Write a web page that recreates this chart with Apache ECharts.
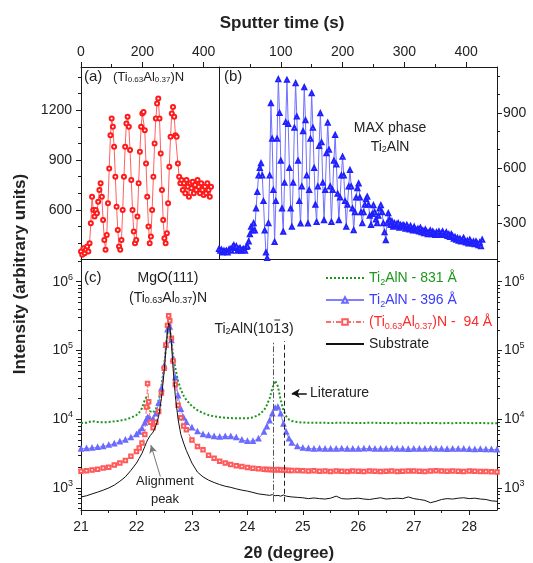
<!DOCTYPE html>
<html><head><meta charset="utf-8">
<script src="https://cdn.jsdelivr.net/npm/echarts@6/dist/echarts.min.js"></script>
<style>html,body{margin:0;padding:0;background:#fff}#c{width:533px;height:563px}</style>
</head><body><div id="c"></div>
<script>
// ---------- DATA ----------
// Panel (a): (Ti0.63Al0.37)N, sampled every 4 s from 0 s
const timeStepA = 4;
const intensityA = [
350,330,370,340,360,380,350,400,520,680,
600,560,600,580,650,720,760,680,540,420,
360,450,640,850,1050,1150,1100,980,800,620,
480,380,360,420,600,800,980,1120,1160,1100,
960,780,600,470,400,420,560,760,950,1100,
1180,1190,1080,880,680,500,400,440,600,800,
1000,1150,1240,1270,1150,940,720,540,430,400,
460,640,860,1040,1180,1220,1160,1050,1040,880,
800,760,780,720,760,700,780,740,680,760,
730,770,700,750,720,780,740,700,760,720,
690,740,700,760,720,680,740];
// Panel (b): MAX phase Ti2AlN, sampled every 2 s from 0 s
const timeStepB = 2;
const intensityB = [
160,150,155,140,150,145,150,140,155,160,
150,170,180,165,175,150,160,165,150,155,
160,150,170,175,200,240,280,260,300,260,
380,470,560,600,626,560,420,260,140,110,
300,560,953,760,480,198,420,760,1084,900,
640,380,253,520,850,1080,840,600,380,280,
520,820,1062,880,640,420,298,500,800,1040,
860,560,298,480,760,1007,820,600,400,307,
500,720,898,740,520,316,480,680,847,700,
500,307,480,640,780,620,460,316,440,560,
662,560,420,280,400,500,589,500,380,262,
360,440,490,516,440,360,300,360,400,430,
444,400,340,290,350,398,360,320,300,340,
380,398,360,300,250,207,300,354,320,290,
310,280,300,285,295,300,275,290,280,290,
285,270,290,275,265,285,270,260,280,265,
260,270,255,275,250,260,245,265,255,240,
250,260,240,255,245,235,250,240,255,235,
245,255,235,240,250,230,240,225,240,230,
215,225,210,220,205,215,200,210,220,200,
195,205,190,210,195,190,200,185,200,190,
180,195,175,210];
// Panel (c): XRD, 2theta (degree)
const twoTheta = [
21.0,21.1,21.2,21.3,21.4,21.5,21.6,21.7,21.8,21.9,22.0,
22.05,22.1,22.15,22.18,22.2,22.22,22.25,22.3,22.35,22.4,22.45,22.5,22.53,22.56,22.58,22.6,22.63,22.66,22.7,22.75,22.8,22.85,22.9,
23.0,23.1,23.2,23.3,23.4,23.5,23.6,23.7,23.8,23.9,24.0,24.1,24.2,24.3,
24.35,24.4,24.45,24.5,24.55,24.6,24.65,24.7,24.75,24.8,
24.9,25.0,25.1,25.2,25.3,25.4,25.5,25.6,25.7,25.8,25.9,26.0,26.1,26.2,26.3,26.4,26.5,26.6,26.7,26.8,26.9,27.0,27.1,27.2,27.3,27.4,27.5,27.6,27.7,27.8,27.9,28.0,28.1,28.2,28.3,28.4,28.5];
const green831 = [
8800,8900,9400,9100,9000,9100,9300,9500,9900,10500,11500,
12500,14500,19000,21000,19500,16000,13000,12500,14000,19000,30000,60000,110000,180000,215000,200000,140000,85000,55000,36000,27000,22000,19000,
15500,13500,12300,11500,11000,10700,10500,10400,10300,10300,10300,10600,11500,13500,
16000,20000,28000,36500,30000,19000,13500,11000,9900,9400,
9100,8950,8900,8850,8900,8850,8800,8850,8900,8850,8800,8850,8800,8900,8850,8800,8850,8800,8750,8800,8850,8800,8750,8800,8850,8800,8750,8800,8750,8800,8850,8800,8750,8800,8750,8700,8750];
const blue396 = [
3700,3750,3800,3900,4000,4200,4400,4700,5000,5400,6000,
6500,7300,8800,9800,10500,10300,9800,10000,12000,17000,28000,60000,120000,200000,250000,220000,140000,75000,40000,22000,14000,10500,9000,
7500,6600,6000,5800,5600,5500,5600,5600,5400,5000,4800,4800,5200,6500,
7800,9500,12000,14500,15000,12000,8500,6500,5200,4500,
4000,3800,3750,3700,3720,3700,3680,3700,3720,3700,3680,3700,3720,3750,3700,3680,3700,3720,3700,3680,3660,3700,3680,3700,3720,3700,3680,3660,3680,3700,3680,3660,3640,3660,3640,3620,3600];
const red94 = [
1750,1780,1820,1870,1950,2000,2150,2300,2500,2900,3400,
3800,4500,6000,15000,33000,18000,9000,7500,9000,13000,24000,55000,120000,230000,320000,270000,150000,70000,32000,16000,10500,8000,7000,
5000,4000,3600,3000,2700,2450,2300,2200,2100,2050,1980,1930,1900,1870,
1860,1850,1840,1830,1850,1820,1830,1810,1800,1800,
1800,1780,1760,1780,1750,1760,1740,1760,1750,1740,1760,1750,1740,1760,1750,1740,1750,1760,1740,1750,1760,1770,1750,1740,1760,1780,1760,1750,1760,1750,1740,1760,1750,1740,1730,1720,1700];
const substrate = [
740,770,820,870,930,1000,1100,1250,1450,1800,2300,
2700,3200,4000,4600,5000,5300,5800,6500,8000,11000,20000,50000,100000,190000,250000,230000,130000,55000,22000,10000,6000,4500,3500,
2300,1700,1450,1300,1200,1120,1060,1020,970,930,900,860,820,800,
790,780,800,770,780,760,790,760,750,740,
730,720,700,715,700,690,710,760,700,690,700,710,690,680,700,720,690,700,710,700,740,700,680,660,610,640,680,700,690,710,720,700,710,690,680,650,640];
// tick values
const ticksAx = [0,200,400], ticksAxMinor = [100,300];
const ticksBx = [100,200,300,400], ticksBxMinor = [50,150,250,350];
const ticksAy = [600,900,1200], ticksAyMinor = [400,500,700,800,1000,1100,1300,1400];
const ticksBy = [300,600,900], ticksByMinor = [200,400,500,700,800,1000,1100];
const ticksCx = [21,22,23,24,25,26,27,28], ticksCxMinor = [21.5,22.5,23.5,24.5,25.5,26.5,27.5];
const ticksCy = [1e3,1e4,1e5,1e6];
const ticksCyMinor = [500,600,700,800,900,2000,3000,4000,5000,6000,7000,8000,9000,
  20000,30000,40000,50000,60000,70000,80000,90000,200000,300000,400000,500000,600000,700000,800000,900000,2000000];

// ---------- CHART ----------
const F = 'Arial, "Liberation Sans", sans-serif';
const AX = '#1a1a1a';
const GREEN = '#1e961e', BLUE = '#3c3cff', RED = '#ff2a2a';
const pairs = (step, arr) => arr.map((v, i) => [i * step, v]);
const zip = (xs, ys) => xs.map((x, i) => [x, ys[i]]);

function ax(o) {
  const base = {type:'value', splitLine:{show:false},
    axisLine:{show:false, onZero:false, lineStyle:{color:AX, width:1}},
    axisTick:{show:false}, axisLabel:{show:false}};
  return Object.assign(base, o);
}
function lineOnly(o) { return ax(Object.assign({axisLine:{show:true, onZero:false, lineStyle:{color:AX, width:1}}}, o)); }
function major(vals, o, labelOpt) {
  return ax(Object.assign({
    axisLine:{show:true, onZero:false, lineStyle:{color:AX, width:1}},
    axisTick:{show:true, length:5, customValues:vals, lineStyle:{color:AX, width:1}},
    axisLabel:Object.assign({show:true, customValues:vals, fontSize:14, fontFamily:F, color:'#222', margin:8,
      formatter: v => String(v)}, labelOpt || {})
  }, o));
}
function minor(vals, o) {
  return ax(Object.assign({axisTick:{show:true, length:3, customValues:vals, lineStyle:{color:AX, width:1}}}, o));
}
const logLabel = {
  formatter: v => '{b|10}{s|' + Math.round(Math.log10(v)) + '}',
  rich: {b:{fontSize:14, fontFamily:F, color:'#222', lineHeight:18},
         s:{fontSize:9, fontFamily:F, color:'#222', lineHeight:10, verticalAlign:'top'}}
};
const cYmin = 478, cYmax = 2.14e6;

const richTok = (size, color) => ({
  n:{fontSize:size, fontFamily:F, fill:color, color:color, lineHeight:18},
  s:{fontSize:Math.round(size*0.65), fontFamily:F, fill:color, color:color, lineHeight:10, verticalAlign:'bottom'}
});
function gtext(x, y, text, opt) {
  opt = opt || {};
  const size = opt.size || 14, color = opt.color || '#222';
  return {type:'text', x:x, y:y, rotation:opt.rotation || 0, silent:true, z:100,
    style:{text:text, fontSize:size, fontFamily:F, fontWeight:opt.weight || 'normal', fill:color,
      align:opt.align || 'center', verticalAlign:'middle', rich:richTok(size, color)}};
}
// measure pieces of the Miller-Bravais label to put the bar over the "1"
const mctx = document.createElement('canvas').getContext('2d');
function tw(s, size) { mctx.font = size + 'px ' + F; return mctx.measureText(s).width; }
const hklCx = 254, hklCy = 329;
const hklW = [tw('Ti',14), tw('2',9), tw('AlN(10',14), tw('1',14), tw('3)',14)];
const hklTotal = hklW.reduce((a,b)=>a+b,0);
const hklX0 = hklCx - hklTotal/2;
const barX1 = hklX0 + hklW[0] + hklW[1] + hklW[2] + 1;
const barX2 = barX1 + hklW[3] - 2;

const option = {
  animation:false,
  backgroundColor:'#fff',
  grid:[
    {left:81, top:67, width:138, height:192},
    {left:219, top:67, width:278, height:192},
    {left:81, top:259, width:416, height:251}
  ],
  xAxis:[
    major(ticksAx, {gridIndex:0, position:'top', min:0, max:450}),
    minor(ticksAxMinor, {gridIndex:0, position:'top', min:0, max:450}),
    major(ticksBx, {gridIndex:1, position:'top', min:0, max:450}),
    minor(ticksBxMinor, {gridIndex:1, position:'top', min:0, max:450}),
    major(ticksCx, {gridIndex:2, position:'bottom', min:21, max:28.5}, {margin:10}),
    minor(ticksCxMinor, {gridIndex:2, position:'bottom', min:21, max:28.5}),
    lineOnly({gridIndex:2, position:'top', min:21, max:28.5})
  ],
  yAxis:[
    major(ticksAy, {gridIndex:0, position:'left', min:305, max:1460}, {margin:9}),
    minor(ticksAyMinor, {gridIndex:0, position:'left', min:305, max:1460}),
    major(ticksBy, {gridIndex:1, position:'right', min:105, max:1150}, {margin:6}),
    minor(ticksByMinor, {gridIndex:1, position:'right', min:105, max:1150}),
    lineOnly({gridIndex:1, position:'left', min:105, max:1150}),
    major(ticksCy, {gridIndex:2, position:'left', type:'log', logBase:10, min:cYmin, max:cYmax}, Object.assign({margin:8}, logLabel)),
    minor(ticksCyMinor, {gridIndex:2, position:'left', type:'log', logBase:10, min:cYmin, max:cYmax}),
    major(ticksCy, {gridIndex:2, position:'right', type:'log', logBase:10, min:cYmin, max:cYmax}, Object.assign({margin:7}, logLabel)),
    minor(ticksCyMinor, {gridIndex:2, position:'right', type:'log', logBase:10, min:cYmin, max:cYmax})
  ],
  legend:{
    orient:'vertical', left:320, top:266, itemWidth:38, itemHeight:7, itemGap:6,
    data:[{name:'g831', itemStyle:{opacity:0}}, 'b396', 'r94', {name:'sub', itemStyle:{opacity:0}}],
    formatter: name => ({
      g831:'{gn|Ti}{gs|2}{gn|AlN - 831 Å}',
      b396:'{bn|Ti}{bs|2}{bn|AlN - 396 Å}',
      r94:'{rn|(Ti}{rs|0.63}{rn|Al}{rs|0.37}{rn|)N -  94 Å}',
      sub:'{kn|Substrate}'
    })[name],
    textStyle:{fontFamily:F, fontSize:14, rich:{
      gn:{color:GREEN, fontSize:14, fontFamily:F, lineHeight:18},
      gs:{color:GREEN, fontSize:9, fontFamily:F, lineHeight:10, verticalAlign:'bottom'},
      bn:{color:BLUE, fontSize:14, fontFamily:F, lineHeight:18},
      bs:{color:BLUE, fontSize:9, fontFamily:F, lineHeight:10, verticalAlign:'bottom'},
      rn:{color:RED, fontSize:14, fontFamily:F, lineHeight:18},
      rs:{color:RED, fontSize:9, fontFamily:F, lineHeight:10, verticalAlign:'bottom'},
      kn:{color:'#222', fontSize:14, fontFamily:F, lineHeight:18}
    }}
  },
  series:[
    {type:'line', name:'a', xAxisIndex:0, yAxisIndex:0, data:pairs(timeStepA, intensityA),
     symbol:'emptyCircle', symbolSize:4, lineStyle:{color:'#ff6060', width:1},
     itemStyle:{color:'#ff1a1a', borderWidth:1}},
    {type:'line', name:'b', xAxisIndex:2, yAxisIndex:2, data:pairs(timeStepB, intensityB),
     symbol:'emptyTriangle', symbolSize:4, lineStyle:{color:'#7070ff', width:1},
     itemStyle:{color:'#2020ff', borderWidth:0.8}},
    {type:'line', name:'sub', xAxisIndex:4, yAxisIndex:5, data:zip(twoTheta, substrate),
     symbol:'circle', showSymbol:false, lineStyle:{color:'#111', width:1}, itemStyle:{color:'#111'}, z:3,
     markLine:{silent:true, animation:false, symbol:['none','none'], label:{show:false},
       data:[
         [{coord:[24.47, 630], lineStyle:{type:[6,2,1.5,2], color:'#555', width:1}}, {coord:[24.47, 137000]}],
         [{coord:[24.67, 630], lineStyle:{type:[5,3], color:'#222', width:1}}, {coord:[24.67, 137000]}],
         [{coord:[22.43, 1470], symbol:'none', lineStyle:{type:'solid', color:'#777', width:1}}, {coord:[22.26, 4200], symbol:'arrow', symbolSize:[6,8]}],
         [{coord:[25.07, 23800], symbol:'none', lineStyle:{type:'solid', color:'#111', width:1.5}}, {coord:[24.80, 23800], symbol:'arrow', symbolSize:[7,8]}]
       ]}},
    {type:'line', name:'g831', xAxisIndex:4, yAxisIndex:5, data:zip(twoTheta, green831),
     symbol:'circle', showSymbol:false, lineStyle:{color:GREEN, width:2, type:'dotted'}, itemStyle:{color:GREEN}, z:2},
    {type:'line', name:'b396', xAxisIndex:4, yAxisIndex:5, data:zip(twoTheta, blue396),
     symbol:'emptyTriangle', symbolSize:3.5, lineStyle:{color:'#8080ff', width:1},
     itemStyle:{color:'#6a6aff', borderWidth:0.7}, z:2},
    {type:'line', name:'r94', xAxisIndex:4, yAxisIndex:5, data:zip(twoTheta, red94),
     symbol:'emptyRect', symbolSize:3.5, lineStyle:{color:'#ff6a6a', width:1, type:[5,2,1,2]},
     itemStyle:{color:'#ff5a5a', borderWidth:0.7}, z:2}
  ],
  graphic:[
    gtext(282, 23, 'Sputter time (s)', {size:17, weight:'bold'}),
    gtext(289, 553, '2θ (degree)', {size:17, weight:'bold'}),
    gtext(20, 274, 'Intensity (arbitrary units)', {size:17, weight:'bold', rotation:Math.PI/2}),
    gtext(84, 77, '(a)', {size:15, align:'left'}),
    gtext(113, 77, '(Ti{s|0.63}Al{s|0.37})N', {size:13, align:'left'}),
    gtext(224, 77, '(b)', {size:15, align:'left'}),
    gtext(390, 128, 'MAX phase', {size:14}),
    gtext(390, 147, 'Ti{s|2}AlN', {size:14}),
    gtext(84, 278, '(c)', {size:15, align:'left'}),
    gtext(168, 278, 'MgO(111)', {size:14}),
    gtext(168, 298, '(Ti{s|0.63}Al{s|0.37})N', {size:14}),
    gtext(hklX0, hklCy, 'Ti{s|2}AlN(1013)', {size:14, align:'left'}),
    {type:'line', silent:true, z:100, shape:{x1:barX1, y1:hklCy-9, x2:barX2, y2:hklCy-9}, style:{stroke:'#222', lineWidth:1}},
    gtext(310, 393, 'Literature', {size:14, align:'left'}),
    gtext(165, 481, 'Alignment', {size:13}),
    gtext(165, 499, 'peak', {size:13})
  ]
};
const chart = echarts.init(document.getElementById('c'), null, {renderer:'canvas'});
chart.setOption(option);
</script></body></html>
